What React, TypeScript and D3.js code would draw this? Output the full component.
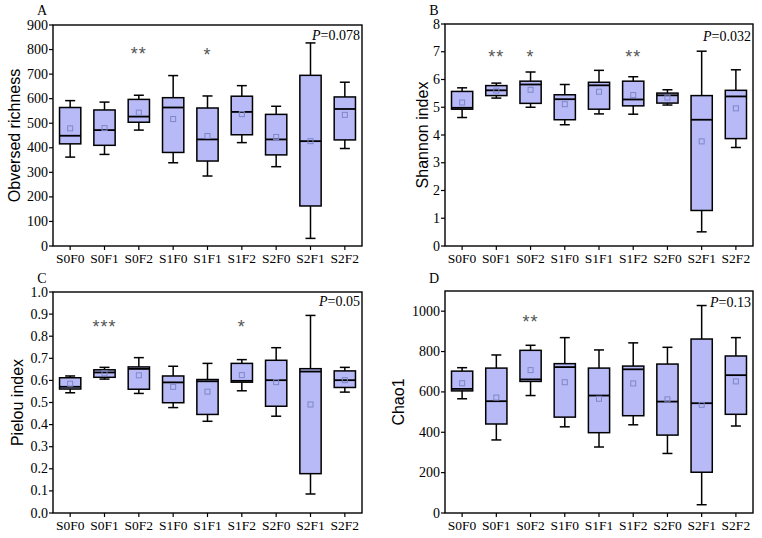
import React from 'react';
import * as d3 from 'd3';

// group labels shared by the four panels
const categories = ['S0F0', 'S0F1', 'S0F2', 'S1F0', 'S1F1', 'S1F2', 'S2F0', 'S2F1', 'S2F2'];

// each row: [whisker low, Q1, median, Q3, whisker high, mean]
const richness = [
  [362, 416, 449, 564, 592, 479],
  [373, 410, 472, 554, 586, 480],
  [472, 504, 527, 597, 614, 543],
  [339, 381, 564, 604, 694, 517],
  [285, 346, 434, 562, 611, 448],
  [421, 453, 546, 610, 653, 537],
  [323, 371, 434, 536, 569, 444],
  [31, 163, 427, 695, 827, 427],
  [397, 432, 558, 607, 667, 534],
];

const shannon = [
  [4.63, 4.93, 4.98, 5.57, 5.7, 5.17],
  [5.33, 5.42, 5.61, 5.78, 5.87, 5.6],
  [5.0, 5.14, 5.82, 5.94, 6.27, 5.63],
  [4.37, 4.55, 5.29, 5.45, 5.82, 5.11],
  [4.76, 4.93, 5.79, 5.9, 6.33, 5.56],
  [4.75, 5.05, 5.28, 5.94, 6.1, 5.44],
  [5.08, 5.15, 5.43, 5.51, 5.63, 5.35],
  [0.51, 1.28, 4.55, 5.42, 7.02, 3.77],
  [3.55, 3.87, 5.39, 5.61, 6.35, 4.96],
];

const pielou = [
  [0.544, 0.561, 0.571, 0.612, 0.62, 0.585],
  [0.606, 0.614, 0.636, 0.648, 0.659, 0.632],
  [0.541, 0.56, 0.652, 0.661, 0.703, 0.623],
  [0.477, 0.499, 0.591, 0.62, 0.664, 0.571],
  [0.415, 0.446, 0.596, 0.604, 0.677, 0.549],
  [0.553, 0.592, 0.598, 0.677, 0.694, 0.624],
  [0.438, 0.483, 0.601, 0.691, 0.748, 0.592],
  [0.086, 0.178, 0.64, 0.653, 0.894, 0.491],
  [0.547, 0.568, 0.601, 0.643, 0.659, 0.601],
];

const chao1 = [
  [566, 605, 615, 703, 720, 643],
  [362, 441, 554, 718, 783, 572],
  [582, 652, 662, 806, 831, 708],
  [427, 475, 723, 740, 869, 648],
  [327, 398, 582, 718, 808, 566],
  [437, 482, 712, 728, 843, 642],
  [295, 386, 552, 738, 821, 563],
  [41, 202, 544, 862, 1028, 536],
  [431, 489, 683, 778, 869, 652],
];

// significance marks: [category, stars, value height]
const richnessStars: [string, string, number][] = [['S0F2', '**', 790], ['S1F1', '*', 785]];
const shannonStars: [string, string, number][] = [['S0F1', '**', 6.88], ['S0F2', '*', 6.88], ['S1F2', '**', 6.88]];
const pielouStars: [string, string, number][] = [['S0F1', '***', 0.85], ['S1F2', '*', 0.85]];
const chao1Stars: [string, string, number][] = [['S0F2', '**', 955]];

const richnessTicks = d3.range(0, 901, 100);
const shannonTicks = d3.range(0, 9, 1);
const pielouTicks = d3.range(0, 11, 1).map(d => d / 10);
const chao1Ticks = d3.range(0, 1001, 200);

const serif = '"Liberation Serif", "Times New Roman", serif';
const sans = '"Liberation Sans", Arial, sans-serif';
const boxFill = '#b7baf6';

interface PanelProps {
  letter: string;
  letterY: number;
  title: string;
  rows: number[][];
  stars: [string, string, number][];
  ticks: number[];
  tickFmt: (v: number) => string;
  max: number;
  pText: string;
  pY: number;
  box: { left: number; right: number; top: number; bottom: number };
  titleX: number;
}

const Panel: React.FC<PanelProps> = ({ letter, letterY, title, rows, stars, ticks, tickFmt, max, pText, pY, box, titleX }) => {
  const x = d3.scaleBand<string>().domain(categories).range([box.left, box.right]);
  const y = d3.scaleLinear().domain([0, max]).range([box.bottom, box.top]);
  const bw = x.bandwidth() * 0.62;
  const cap = 10;

  return (
    <g>
      <text x={box.left - 11} y={letterY} fontFamily={serif} fontSize={14} textAnchor="middle">{letter}</text>
      <text
        transform={`translate(${titleX},${(box.top + box.bottom) / 2}) rotate(-90)`}
        fontFamily={sans} fontSize={16} textAnchor="middle" dominantBaseline="central"
      >{title}</text>

      {rows.map((r, i) => {
        const cx = (x(categories[i]) || 0) + x.bandwidth() / 2;
        const [lo, q1, med, q3, hi, mean] = r;
        return (
          <g key={i} stroke="#000" strokeWidth={1.5}>
            <line x1={cx} x2={cx} y1={y(hi)} y2={y(q3)} />
            <line x1={cx} x2={cx} y1={y(q1)} y2={y(lo)} />
            <line x1={cx - cap / 2} x2={cx + cap / 2} y1={y(hi)} y2={y(hi)} />
            <line x1={cx - cap / 2} x2={cx + cap / 2} y1={y(lo)} y2={y(lo)} />
            <rect x={cx - bw / 2} y={y(q3)} width={bw} height={y(q1) - y(q3)} fill={boxFill} />
            <line x1={cx - bw / 2} x2={cx + bw / 2} y1={y(med)} y2={y(med)} strokeWidth={1.8} />
            <rect x={cx - 2.5} y={y(mean) - 2.5} width={5} height={5} fill="none" stroke="#7f86c8" strokeWidth={1} />
          </g>
        );
      })}

      {stars.map(([c, s, v]) => (
        <text key={c} x={(x(c) || 0) + x.bandwidth() / 2} y={y(v) + 8} fontFamily={sans} fontSize={18}
          fill="#555" textAnchor="middle" letterSpacing={1}>{s}</text>
      ))}

      <text x={box.right - 2} y={pY} fontFamily={serif} fontSize={14} textAnchor="end">
        <tspan fontStyle="italic">P</tspan>=<tspan>{pText}</tspan>
      </text>

      <rect x={box.left} y={box.top} width={box.right - box.left} height={box.bottom - box.top}
        fill="none" stroke="#000" strokeWidth={1.4} />

      {ticks.map(t => (
        <g key={t}>
          <line x1={box.left - 4} x2={box.left} y1={y(t)} y2={y(t)} stroke="#000" strokeWidth={1.2} />
          <text x={box.left - 5} y={y(t)} fontFamily={serif} fontSize={14} textAnchor="end"
            dominantBaseline="central">{tickFmt(t)}</text>
        </g>
      ))}
      {categories.map(c => {
        const cx = (x(c) || 0) + x.bandwidth() / 2;
        return (
          <g key={c}>
            <line x1={cx} x2={cx} y1={box.bottom} y2={box.bottom + 4} stroke="#000" strokeWidth={1.2} />
            <text x={cx} y={box.bottom + 17} fontFamily={serif} fontSize={13.5} textAnchor="middle">{c}</text>
          </g>
        );
      })}
    </g>
  );
};

export default function App() {
  return (
    <svg width={762} height={538} style={{ position: 'absolute', left: 0, top: 0, background: '#fff' }}>
      <Panel letter="A" letterY={15} title="Obversed richness" rows={richness} stars={richnessStars} ticks={richnessTicks}
        tickFmt={d3.format('d')} max={900} pText="0.078" pY={40}
        box={{ left: 53, right: 362, top: 25, bottom: 246 }} titleX={14} />
      <Panel letter="B" letterY={15} title="Shannon index" rows={shannon} stars={shannonStars} ticks={shannonTicks}
        tickFmt={d3.format('d')} max={8} pText="0.032" pY={41}
        box={{ left: 445, right: 753, top: 24, bottom: 246 }} titleX={422} />
      <Panel letter="C" letterY={283} title="Pielou index" rows={pielou} stars={pielouStars} ticks={pielouTicks}
        tickFmt={d3.format('.1f')} max={1} pText="0.05" pY={306}
        box={{ left: 53, right: 362, top: 292, bottom: 513 }} titleX={17} />
      <Panel letter="D" letterY={283} title="Chao1" rows={chao1} stars={chao1Stars} ticks={chao1Ticks}
        tickFmt={d3.format('d')} max={1100} pText="0.13" pY={307}
        box={{ left: 445, right: 753, top: 291, bottom: 513 }} titleX={398} />
    </svg>
  );
}
